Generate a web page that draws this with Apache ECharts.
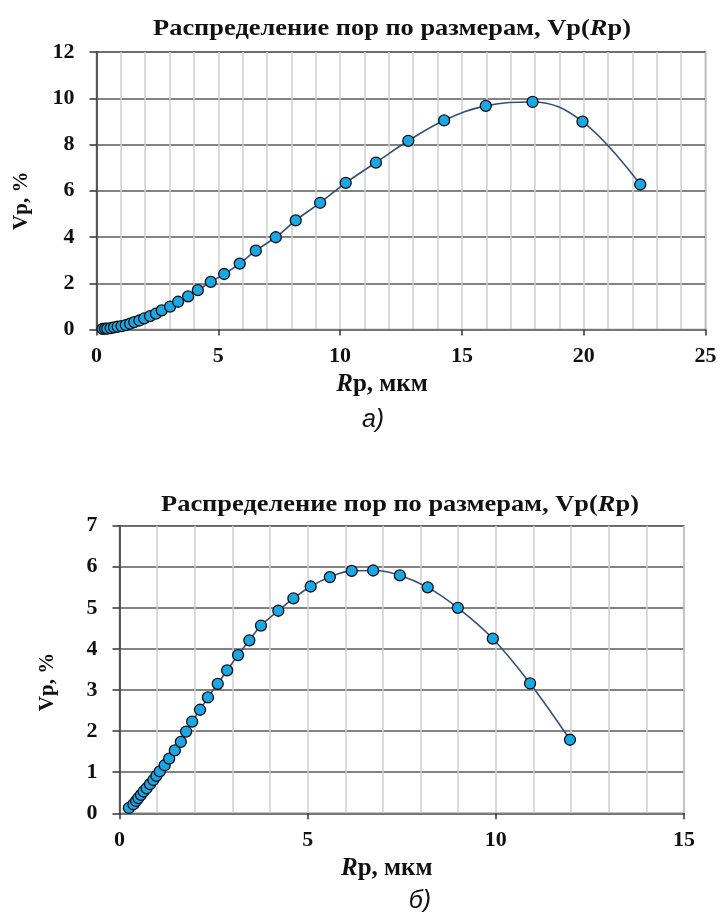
<!DOCTYPE html>
<html>
<head>
<meta charset="utf-8">
<script src="https://cdn.jsdelivr.net/npm/echarts@6/dist/echarts.min.js"></script>
<style>html,body{margin:0;padding:0;background:#fff;}#c{width:721px;height:912px;}</style>
</head>
<body>
<div id="c"></div>
<script>
const titleText = 'Распределение пор по размерам, Vp(';
const topR = [0.25,0.35,0.44,0.58,0.72,0.87,1.03,1.2,1.38,1.55,1.76,1.96,2.2,2.44,2.68,3.02,3.35,3.76,4.16,4.69,5.24,5.88,6.54,7.36,8.18,9.18,10.23,11.47,12.8,14.27,15.98,17.9,19.95,22.32];
const topV = [0.03,0.035,0.04,0.06,0.09,0.12,0.15,0.19,0.25,0.32,0.39,0.48,0.58,0.69,0.83,0.99,1.2,1.43,1.7,2.06,2.4,2.85,3.41,3.99,4.72,5.48,6.34,7.22,8.16,9.04,9.67,9.84,8.99,6.27];
const botR = [0.25,0.37,0.44,0.5,0.57,0.64,0.72,0.81,0.9,0.98,1.07,1.2,1.32,1.47,1.63,1.77,1.93,2.14,2.35,2.61,2.86,3.15,3.45,3.76,4.22,4.62,5.08,5.59,6.17,6.74,7.45,8.19,8.99,9.92,10.91,11.97];
const botV = [0.13,0.22,0.3,0.37,0.45,0.53,0.61,0.71,0.81,0.91,1.02,1.17,1.33,1.53,1.74,1.99,2.23,2.52,2.82,3.15,3.48,3.85,4.21,4.57,4.93,5.23,5.52,5.75,5.9,5.91,5.79,5.5,5.0,4.25,3.16,1.79];
const topXTicks = {min:0, max:25, interval:5};
const topYTicks = {min:0, max:12, interval:2};
const botXTicks = {min:0, max:15, interval:5};
const botYTicks = {min:0, max:7, interval:1};

const serif = '"Liberation Serif","Times New Roman",serif';
const lblStyle = {fontFamily: serif, fontWeight:'bold', fontSize:22, color:'#111'};
function xAxis(idx, t, padR){
  return {type:'value', gridIndex: idx, min:t.min, max:t.max, interval:t.interval, splitNumber:5,
    axisLine:{show:true, lineStyle:{color:'#777', width:2}},
    axisTick:{show:true, inside:false, length:6, lineStyle:{color:'#333', width:1.5}},
    axisLabel:Object.assign({margin:16}, lblStyle),
    splitLine:{show:true, lineStyle:{color:'#cfcfcf', width:1.5}},
    minorTick:{show:false, splitNumber:5},
    minorSplitLine:{show:true, lineStyle:{color:'#cfcfcf', width:1.5}},
    name:'{i|R}p, мкм', nameLocation:'middle', nameGap:43,
    nameTextStyle:{fontFamily:serif, fontWeight:'bold', fontSize:25, color:'#111', padding:[0,padR,0,0],
      rich:{i:{fontFamily:serif, fontWeight:'bold', fontStyle:'italic', fontSize:25, color:'#111'}}}
  };
}
function yAxis(idx, t, gap, padR){
  return {type:'value', gridIndex: idx, min:t.min, max:t.max, interval:t.interval,
    axisLine:{show:true, lineStyle:{color:'#333', width:1.5}},
    axisTick:{show:true, inside:false, length:7, lineStyle:{color:'#333', width:1.5}},
    axisLabel:Object.assign({margin:22}, lblStyle),
    splitLine:{show:true, lineStyle:{color:'#5a5a5a', width:1.5}},
    name:'Vp, %', nameLocation:'middle', nameGap:gap, nameRotate:90,
    nameTextStyle:{fontFamily:serif, fontWeight:'bold', fontSize:21, color:'#111', padding:[0,padR,0,0]}
  };
}
function series(idx, R, V){
  return {type:'line', xAxisIndex:idx, yAxisIndex:idx, smooth:0.4, data:R.map((r,i)=>[r,V[i]]),
    symbol:'circle', symbolSize:11,
    lineStyle:{color:'#34507a', width:1.6},
    itemStyle:{color:'#1aa7e6', borderColor:'#111', borderWidth:1.3},
    emphasis:{disabled:true}, animation:false};
}
function titleG(x, y){
  return {type:'text', x:x, y:y, scaleX:1.1, style:{text:'{n|'+titleText+'}{i|R}{n|p)}', align:'center', verticalAlign:'middle',
    rich:{n:{fontFamily:serif, fontWeight:'bold', fontSize:24, fill:'#111'}, i:{fontFamily:serif, fontWeight:'bold', fontStyle:'italic', fontSize:24, fill:'#111'}}}};
}
function subG(x, y, s){
  return {type:'text', x:x, y:y, style:{text:s, align:'center', verticalAlign:'middle', fontFamily:'"Liberation Sans",Arial,sans-serif', fontStyle:'italic', fontSize:25, fill:'#111'}};
}
const chart = echarts.init(document.getElementById('c'), null, {renderer:'canvas'});
chart.setOption({
  animation:false,
  backgroundColor:'#fff',
  grid:[
    {left:96.5, top:52, width:609, height:277.5, show:true, borderColor:'#8a8a8a', borderWidth:1.5, containLabel:false},
    {left:119.5, top:525.7, width:564.5, height:287.6, show:true, borderColor:'#8a8a8a', borderWidth:1.5, containLabel:false}
  ],
  xAxis:[xAxis(0, topXTicks, 38), xAxis(1, botXTicks, 30)],
  yAxis:[yAxis(0, topYTicks, 64, 20), yAxis(1, botYTicks, 61, 25)],
  series:[series(0, topR, topV), series(1, botR, botV)],
  graphic:[titleG(392, 29), titleG(400, 505), subG(373, 420, 'а)'), subG(420, 901, 'б)')]
});
</script>
</body>
</html>
